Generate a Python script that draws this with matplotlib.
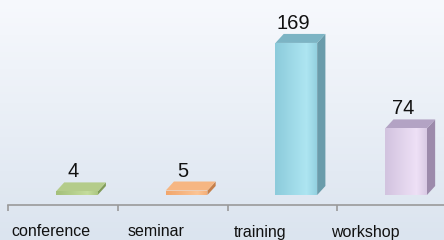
import matplotlib
matplotlib.use("Agg")
import matplotlib.pyplot as plt
import numpy as np
from matplotlib.patches import Polygon
from matplotlib.colors import LinearSegmentedColormap

categories = ["conference", "seminar", "training", "workshop"]
counts = [4, 5, 169, 74]
front_colors = ["#a4c07a", "#f2a66c", "#8ccbdb", "#d2c3df"]
light_colors = ["#c4dc9c", "#fcc494", "#ade5f1", "#eee0f6"]
side_colors = ["#809b58", "#c57f4a", "#6a9cab", "#9c8aab"]
top_colors = ["#b4cc8a", "#f6b682", "#7cb4c4", "#b3a3c4"]

W, H = 444, 240
FAMILY = ["Liberation Sans", "DejaVu Sans"]

fig = plt.figure(figsize=(W / 100, H / 100), dpi=100)

# background gradient, white at top to pale blue at bottom
bg = fig.add_axes([0, 0, 1, 1], zorder=0)
grad = LinearSegmentedColormap.from_list("bg", ["#f7f9fd", "#dbe4ef"])
bg.imshow(np.linspace(0, 1, 256).reshape(-1, 1), aspect="auto", cmap=grad,
          extent=[0, 1, 0, 1], origin="upper")
bg.set_axis_off()

ax = fig.add_axes([8 / W, 35 / H, 439 / W, 205 / H], zorder=1)
ax.patch.set_alpha(0)
ax.set_xlim(-0.5, 3.5)
ax.set_ylim(-11.1, 216.7)

front_w = 0.38
shift = 0.127
dx = 0.075
dy = 10.0
profile = np.concatenate([np.linspace(0.15, 1.0, 45), np.linspace(1.0, 0.35, 15)])

for i, v in enumerate(counts):
    x0 = i + shift - front_w / 2
    x1 = x0 + front_w
    front = Polygon([(x0, 0), (x1, 0), (x1, v), (x0, v)], closed=True,
                    facecolor=front_colors[i], edgecolor="none", zorder=3)
    ax.add_patch(front)
    # highlight across the front face, brightest right of centre
    cmap = LinearSegmentedColormap.from_list("f", [side_colors[i], front_colors[i], light_colors[i]])
    prof = np.interp(profile, [0, 0.15, 1], [0.0, 0.5, 1.0])
    im = ax.imshow(prof.reshape(1, -1), cmap=cmap, vmin=0, vmax=1, interpolation="bilinear",
                   extent=[x0, x1, 0, v], aspect="auto", zorder=4)
    im.set_clip_path(front)
    side = Polygon([(x1, 0), (x1 + dx, dy), (x1 + dx, v + dy), (x1, v)], closed=True,
                   facecolor=side_colors[i], edgecolor="none", zorder=3)
    ax.add_patch(side)
    top = Polygon([(x0, v), (x1, v), (x1 + dx, v + dy), (x0 + dx, v + dy)], closed=True,
                  facecolor=top_colors[i], edgecolor="none", zorder=3)
    ax.add_patch(top)
    ax.annotate(str(v), xy=(i + shift - 0.03, v + dy), xytext=(0, 3.6),
                textcoords="offset points", ha="center", va="baseline",
                fontsize=14.5, family=FAMILY, color="#111111", zorder=5)

# category axis
ax.spines[["top", "right", "left"]].set_visible(False)
ax.spines["bottom"].set_color("#9a9a9a")
ax.spines["bottom"].set_linewidth(1.2)
ax.set_yticks([])
ax.set_xticks(np.arange(len(categories) + 1) - 0.5)
ax.set_xticklabels([])
ax.tick_params(axis="x", length=4, width=1.2, color="#9a9a9a", direction="out")

# category names, slightly left of the bars
for i, name in enumerate(categories):
    ax.text(i * 0.955 - 0.11, -31.5 / 205, name, transform=ax.get_xaxis_transform(),
            ha="center", va="baseline", fontsize=11.5, family=FAMILY, color="#111111")

fig.savefig("out.png", dpi=100)
